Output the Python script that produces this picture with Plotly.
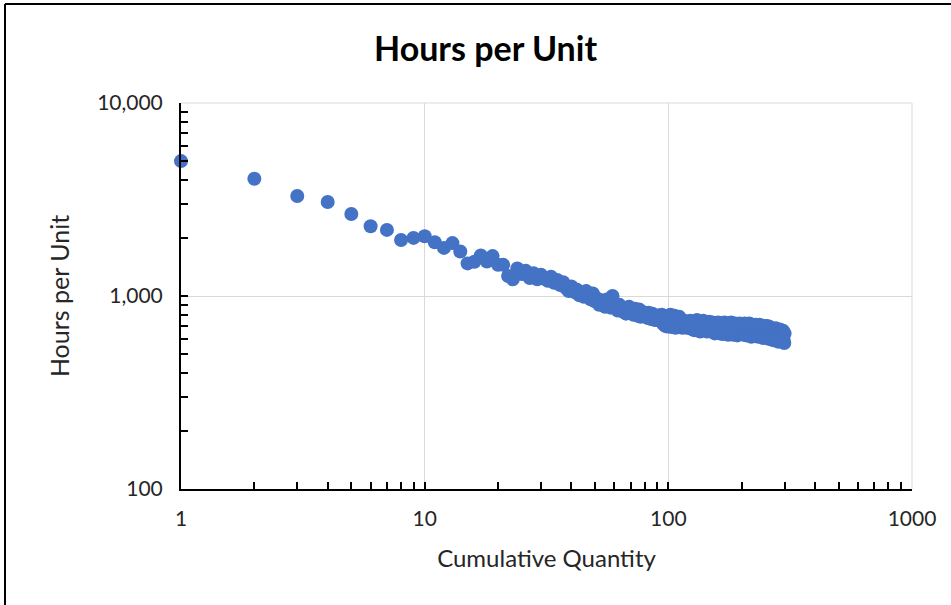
import plotly.graph_objects as go

# Data
quantity = list(range(1, 301))
hours = [
    5000, 4050, 3300, 3070, 2660, 2300, 2200, 1950, 2000, 2040,
    1900, 1775, 1880, 1700, 1475, 1505, 1620, 1510, 1610, 1450,
    1450, 1270, 1220, 1390, 1300, 1350, 1240, 1310, 1220, 1290,
    1230, 1200, 1260, 1170, 1210, 1140, 1180, 1100, 1060, 1120,
    1050, 1080, 1010, 1040, 990, 1060, 1000, 960, 1030, 940,
    970, 900, 950, 930, 880, 960, 910, 870, 1000, 900,
    880, 840, 900, 860, 830, 870, 810, 850, 880, 820,
    840, 800, 860, 820, 790, 850, 780, 830, 810, 790,
    800, 770, 820, 790, 760, 810, 780, 750, 790, 770,
    760, 795, 740, 800, 720, 785, 700, 770, 695, 790,
    730, 800, 690, 775, 700, 790, 685, 760, 745, 705,
    780, 695, 750, 685, 720, 745, 695, 735, 685, 710,
    725, 685, 745, 700, 675, 735, 710, 665, 725, 690,
    750, 700, 675, 715, 655, 735, 690, 700, 745, 665,
    715, 690, 725, 655, 700, 675, 735, 690, 665, 715,
    700, 730, 660, 710, 640, 720, 680, 700, 650, 730,
    670, 710, 640, 690, 725, 660, 635, 705, 680, 730,
    650, 700, 640, 715, 680, 630, 720, 660, 700, 640,
    730, 680, 650, 710, 630, 695, 665, 720, 645, 685,
    715, 625, 670, 700, 650, 720, 635, 680, 710, 640,
    700, 650, 715, 630, 680, 720, 640, 670, 625, 700,
    710, 655, 630, 685, 720, 645, 665, 700, 615, 685,
    655, 710, 630, 670, 700, 640, 620, 685, 710, 650,
    630, 700, 665, 615, 690, 640, 710, 655, 620, 675,
    700, 630, 660, 690, 605, 675, 640, 700, 620, 660,
    640, 680, 610, 660, 700, 630, 650, 600, 670, 640,
    690, 620, 650, 600, 680, 640, 610, 660, 630, 590,
    670, 640, 600, 650, 620, 680, 590, 640, 610, 660,
    630, 580, 650, 600, 640, 620, 670, 590, 630, 610,
    650, 580, 640, 600, 620, 660, 590, 630, 570, 640,
]
x_tickvals = [1, 10, 100, 1000]
x_ticktext = ["1", "10", "100", "1000"]
y_tickvals = [100, 1000, 10000]
y_ticktext = ["100", "1,000", "10,000"]

FONT = "Lato"
TXT = "#262626"

fig = go.Figure(go.Scatter(
    x=quantity, y=hours, mode="markers",
    marker=dict(color="#4472C4", size=14, line=dict(width=0)),
    cliponaxis=False,
    hoverinfo="x+y",
))

W, H = 951, 605
L, R, T, B = 181, 39, 103, 116
pw, ph = W - L - R, H - T - B

def px2paper(px, py):
    return (px - L) / pw, (H - B - py) / ph

x0, y0 = px2paper(5, 4)
x1, _ = px2paper(951, 4)
_, yb = px2paper(5, 606)

fig.update_layout(
    width=W, height=H,
    margin=dict(l=L, r=R, t=T, b=B),
    paper_bgcolor="white", plot_bgcolor="white",
    showlegend=False,
    font=dict(family=FONT, color=TXT, size=20),
    title=dict(text="<b>Hours per Unit</b>", x=485.5 / W, xanchor="center",
               y=1 - 49 / H, yanchor="middle",
               font=dict(family=FONT, size=34, color="black")),
    xaxis=dict(
        type="log", range=[0, 3],
        tickvals=x_tickvals, ticktext=x_ticktext,
        showgrid=True, gridcolor="#D9D9D9", gridwidth=1,
        showline=True, linecolor="black", linewidth=2,
        ticks="inside", ticklen=7, tickcolor="black", tickwidth=1.5,
        minor=dict(ticks="inside", ticklen=7, tickcolor="black", tickwidth=1.5,
                   showgrid=False, dtick="D1"),
        zeroline=False, mirror=False,
        title=dict(text="Cumulative Quantity", font=dict(size=24, color=TXT), standoff=21),
        tickfont=dict(size=21, color=TXT),
        ticklabelstandoff=10,
    ),
    yaxis=dict(
        type="log", range=[2, 4],
        tickvals=y_tickvals, ticktext=y_ticktext,
        showgrid=True, gridcolor="#D9D9D9", gridwidth=1,
        showline=True, linecolor="black", linewidth=2,
        ticks="inside", ticklen=7, tickcolor="black", tickwidth=1.5,
        minor=dict(ticks="inside", ticklen=7, tickcolor="black", tickwidth=1.5,
                   showgrid=False, dtick="D1"),
        zeroline=False, mirror=False,
        title=dict(text="Hours per Unit", font=dict(size=25, color=TXT), standoff=20),
        tickfont=dict(size=21, color=TXT),
        ticklabelstandoff=12,
    ),
    shapes=[
        dict(type="line", xref="paper", yref="paper", x0=x0, y0=y0, x1=x1, y1=y0,
             line=dict(color="black", width=2)),
        dict(type="line", xref="paper", yref="paper", x0=x0, y0=y0, x1=x0, y1=yb,
             line=dict(color="black", width=2)),
        dict(type="line", xref="paper", yref="paper", x0=1, y0=0, x1=1, y1=1,
             line=dict(color="#D9D9D9", width=1)),
        dict(type="line", xref="paper", yref="paper", x0=0, y0=1, x1=1, y1=1,
             line=dict(color="#D9D9D9", width=1)),
    ],
)

fig.write_html("out.html")
